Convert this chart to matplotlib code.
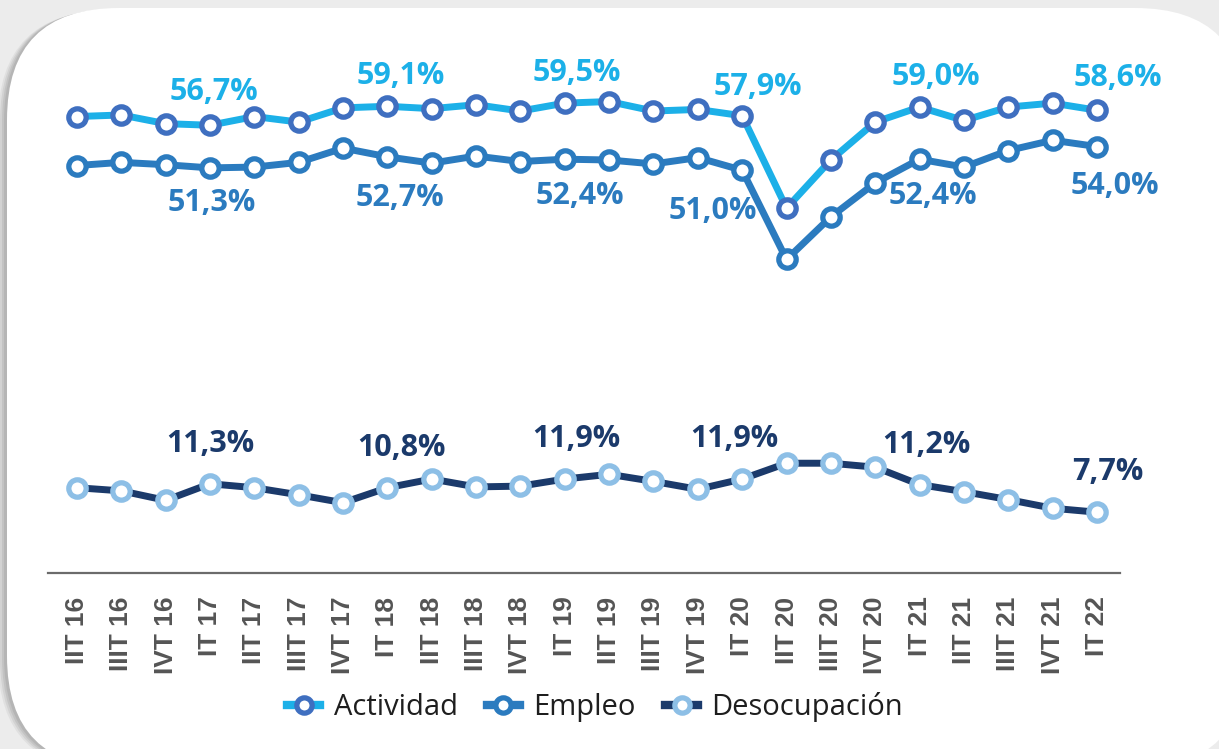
import matplotlib
matplotlib.use("Agg")
import matplotlib.pyplot as plt
from matplotlib.patches import FancyBboxPatch

# trimestres
quarters = ["IIT 16", "IIIT 16", "IVT 16",
            "IT 17", "IIT 17", "IIIT 17", "IVT 17",
            "IT 18", "IIT 18", "IIIT 18", "IVT 18",
            "IT 19", "IIT 19", "IIIT 19", "IVT 19",
            "IT 20", "IIT 20", "IIIT 20", "IVT 20",
            "IT 21", "IIT 21", "IIIT 21", "IVT 21",
            "IT 22"]

actividad = [57.8, 58.0, 56.9,
             56.7, 57.8, 57.1, 58.9,
             59.1, 58.8, 59.3, 58.5,
             59.5, 59.7, 58.5, 58.7,
             57.9, 46.2, 52.3, 57.1,
             59.0, 57.3, 59.0, 59.5,
             58.6]
empleo = [51.6, 52.0, 51.7,
          51.3, 51.4, 52.0, 53.8,
          52.7, 51.9, 52.8, 52.1,
          52.4, 52.3, 51.8, 52.6,
          51.0, 39.7, 45.1, 49.4,
          52.4, 51.4, 53.5, 54.8,
          54.0]
desocupacion = [10.8, 10.4, 9.2,
                11.3, 10.8, 9.9, 8.9,
                10.8, 11.9, 10.9, 11.0,
                11.9, 12.5, 11.6, 10.6,
                11.9, 13.9, 13.9, 13.4,
                11.2, 10.3, 9.3, 8.2,
                7.7]

# puntos etiquetados (primer trimestre de cada año)
label_idx = [3, 7, 11, 15, 19, 23]

# desplazamiento de etiquetas en pixeles
act_off = [(4, 33), (13, 30), (12, 30), (16, 29), (16, 30), (21, 32)]
emp_off = [(2, -35), (13, -41), (15, -37), (-29, -41), (13, -37), (18, -39)]
des_off = [(0, 40), (14, 40), (12, 40), (-8, 40), (7, 40), (11, 40)]

c_act_line = "#1cb0e8"
c_act_mark = "#3f6fc0"
c_emp = "#2b7bbf"
c_des_line = "#1b3a6b"
c_des_mark = "#8dbfe6"

W, H = 1219, 749
fig = plt.figure(figsize=(W / 100, H / 100), dpi=100)
fig.patch.set_facecolor("#ececec")

# fondo con caja redondeada y sombra
bg = fig.add_axes([0, 0, 1, 1], zorder=-10)
bg.set_xlim(0, W)
bg.set_ylim(H, 0)
bg.axis("off")
for dx, a in [(9, 0.12), (7, 0.16), (5, 0.2), (3, 0.24)]:
    bg.add_patch(FancyBboxPatch((7 - dx, 8 + dx * 0.3), 1240, 760,
                                boxstyle="round,pad=0,rounding_size=112",
                                fc="#8a8a8a", ec="none", alpha=a))
bg.add_patch(FancyBboxPatch((7, 8), 1240, 760,
                            boxstyle="round,pad=0,rounding_size=112",
                            fc="white", ec="none"))

ax = fig.add_axes([48 / W, 176 / H, 1072 / W, 537 / H])
ax.set_facecolor("none")
x = list(range(len(quarters)))

ax.plot(x, actividad, color=c_act_line, lw=5, marker="o", ms=12.5,
        mfc="white", mec=c_act_mark, mew=3.8, label="Actividad", zorder=3)
ax.plot(x, empleo, color=c_emp, lw=5, marker="o", ms=12.5,
        mfc="white", mec=c_emp, mew=3.8, label="Empleo", zorder=3)
ax.plot(x, desocupacion, color=c_des_line, lw=5, marker="o", ms=12.5,
        mfc="white", mec=c_des_mark, mew=3.8, label="Desocupación", zorder=3)

lab_font = dict(family="Open Sans", weight="bold", fontsize=22,
                ha="center", va="center")


def fmt(v):
    return f"{v:.1f}".replace(".", ",") + "%"


for k, i in enumerate(label_idx):
    ax.annotate(fmt(actividad[i]), (i, actividad[i]), xytext=act_off[k],
                textcoords="offset pixels", color=c_act_line, **lab_font)
    ax.annotate(fmt(empleo[i]), (i, empleo[i]), xytext=emp_off[k],
                textcoords="offset pixels", color=c_emp, **lab_font)
    ax.annotate(fmt(desocupacion[i]), (i, desocupacion[i]), xytext=des_off[k],
                textcoords="offset pixels", color=c_des_line, **lab_font)

ax.set_xlim(-0.654, 23.52)
ax.set_ylim(0, 68)
for s in ["top", "right", "left"]:
    ax.spines[s].set_visible(False)
ax.spines["bottom"].set_color("#6b6b6b")
ax.spines["bottom"].set_linewidth(1.6)
ax.set_yticks([])
ax.set_xticks(x)
ax.set_xticklabels(quarters, rotation=90, family="Liberation Sans",
                   weight="bold", fontsize=19, color="#555555")
ax.tick_params(axis="x", length=0, pad=17)

leg = fig.legend(loc="center", bbox_to_anchor=(595 / W, 1 - 707 / H), ncol=3,
                 frameon=False, handlelength=1.15, columnspacing=1.0,
                 handletextpad=0.45, prop=dict(family="Open Sans", size=21))
for t in leg.get_texts():
    t.set_color("#1e1e1e")
for h in leg.legend_handles:
    h.set_markersize(11)
    h.set_linewidth(6)

fig.savefig("out.png", dpi=100, facecolor=fig.get_facecolor())
